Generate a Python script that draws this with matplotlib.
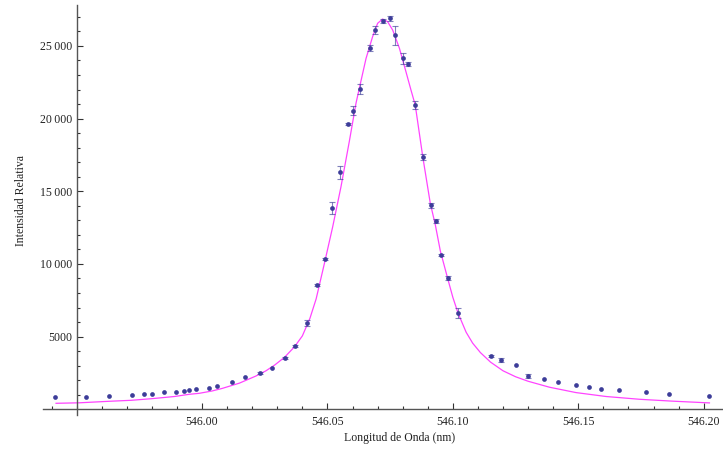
import numpy as np
import matplotlib

matplotlib.use("Agg")
import matplotlib.pyplot as plt
from matplotlib.ticker import FixedLocator

# measured line profile (wavelength in nm, relative intensity, uncertainty)
wavelength = [
    545.9414, 545.9539, 545.9628, 545.9719, 545.9769, 545.9799, 545.9848, 545.9898,
    545.9928, 545.9948, 545.9977, 546.0029, 546.0058, 546.0118, 546.0170, 546.0230,
    546.0280, 546.0329, 546.0369, 546.0419, 546.0459, 546.0490, 546.0519, 546.0549,
    546.0581, 546.0600, 546.0630, 546.0670, 546.0691, 546.0720, 546.0751, 546.0771,
    546.0800, 546.0821, 546.0851, 546.0880, 546.0911, 546.0931, 546.0951, 546.0981,
    546.1021, 546.1151, 546.1191, 546.1252, 546.1301, 546.1362, 546.1421, 546.1491,
    546.1541, 546.1592, 546.1661, 546.1772, 546.1860, 546.2020,
]
intensity = [
    826, 846, 915, 1005, 1032, 1053, 1170, 1211,
    1238, 1328, 1397, 1486, 1603, 1899, 2202, 2477,
    2841, 3550, 4355, 5937, 8552, 10340, 13850, 16326,
    19608, 20544, 22036, 24878, 26117, 26736, 26900, 25731,
    24149, 23757, 20940, 17338, 14035, 12955, 10595, 9033,
    6646, 3667, 3392, 3069, 2312, 2064, 1878, 1651,
    1514, 1376, 1328, 1170, 1073, 936,
]
uncertainty = [
    0, 0, 0, 0, 0, 0, 0, 0,
    0, 0, 0, 0, 0, 0, 0, 60,
    0, 60, 40, 230, 80, 100, 435, 447,
    80, 300, 344, 200, 275, 150, 160, 665,
    380, 130, 250, 200, 180, 140, 80, 120,
    350, 70, 140, 0, 140, 0, 0, 0,
    0, 0, 0, 0, 0, 0,
]

# fitted profile, sampled from the figure
fit_wavelength = [
    545.9418, 545.9511, 545.9628, 545.9718, 545.9799, 545.9890, 545.9949, 545.9989,
    546.0040, 546.0082, 546.0149, 546.0215, 546.0255, 546.0290, 546.0329, 546.0369,
    546.0400, 546.0430, 546.0455, 546.0488, 546.0521, 546.0554, 546.0587, 546.0614,
    546.0630, 546.0654, 546.0680, 546.0700, 546.0720, 546.0740, 546.0760, 546.0787,
    546.0813, 546.0833, 546.0850, 546.0880, 546.0910, 546.0930, 546.0950, 546.0981,
    546.1000, 546.1021, 546.1053, 546.1079, 546.1110, 546.1150, 546.1200, 546.1250,
    546.1300, 546.1385, 546.1491, 546.1611, 546.1744, 546.1876, 546.2023,
]
fit_intensity = [
    413, 447, 550, 620, 730, 880, 1032, 1100,
    1260, 1445, 1800, 2291, 2650, 3050, 3578, 4307,
    5050, 6250, 7600, 10045, 12563, 15315, 18411, 21073,
    22312, 24149, 25635, 26557, 26852, 26667, 26096, 24837,
    23227, 21968, 20936, 17379, 14173, 12700, 10900, 8896,
    7700, 6605, 5300, 4550, 3900, 3250, 2650, 2240,
    1930, 1520, 1150, 880, 690, 560, 440,
]

x_major = [546.00, 546.05, 546.10, 546.15, 546.20]
x_labels = ["546.00", "546.05", "546.10", "546.15", "546.20"]
y_major = [5000, 10000, 15000, 20000, 25000]
y_labels = ["5000", "10\u2009000", "15\u2009000", "20\u2009000", "25\u2009000"]

plt.rcParams["font.family"] = ["Liberation Serif", "DejaVu Serif"]

W, H = 723, 451
fig = plt.figure(figsize=(W / 100, H / 100), dpi=100)
ax = fig.add_axes([43 / W, (H - 415) / H, (722 - 43) / W, (415 - 5) / H])
ax.set_xlim(545.9366, 546.2073)
ax.set_ylim(-392, 27818)

point_color = "#3d3d99"
ax.plot(fit_wavelength, fit_intensity, color="#ff44ff", lw=0.9, zorder=2)

wl = np.array(wavelength)
it = np.array(intensity)
err = np.array(uncertainty)
has_err = err > 0
ax.errorbar(wl[has_err], it[has_err], yerr=err[has_err], fmt="none",
            ecolor=point_color, alpha=0.65, elinewidth=0.8, capsize=2.3,
            capthick=0.8, zorder=3)
ax.plot(wl, it, "o", color=point_color, ms=3.4, mew=0, zorder=4)

for side in ("top", "right"):
    ax.spines[side].set_visible(False)
ax.spines["left"].set_position(("data", 545.95))
ax.spines["bottom"].set_position(("data", 0))
for side in ("left", "bottom"):
    ax.spines[side].set_color("#555555")
    ax.spines[side].set_linewidth(1.0)

ax.xaxis.set_major_locator(FixedLocator(x_major))
ax.set_xticklabels(x_labels)
ax.xaxis.set_minor_locator(FixedLocator(np.round(np.arange(545.94, 546.21, 0.01), 2)))
ax.yaxis.set_major_locator(FixedLocator(y_major))
ax.set_yticklabels(y_labels)
ax.yaxis.set_minor_locator(FixedLocator(np.arange(1000, 28000, 1000)))

ax.tick_params(which="both", direction="in", color="#333333", width=0.8,
               labelsize=8.5, labelcolor="#222222")
ax.tick_params(which="major", length=4.5)
ax.tick_params(which="minor", length=2.5)
ax.tick_params(axis="x", pad=5)
ax.tick_params(axis="y", pad=3)

fig.text(400 / W, 1 - 438 / H, "Longitud de Onda (nm)", ha="center", va="center",
         fontsize=8.5, color="#222222")
fig.text(21 / W, 1 - 201 / H, "Intensidad Relativa", ha="center", va="center",
         rotation=90, fontsize=8.5, color="#222222")

fig.savefig("out.png", dpi=100)
